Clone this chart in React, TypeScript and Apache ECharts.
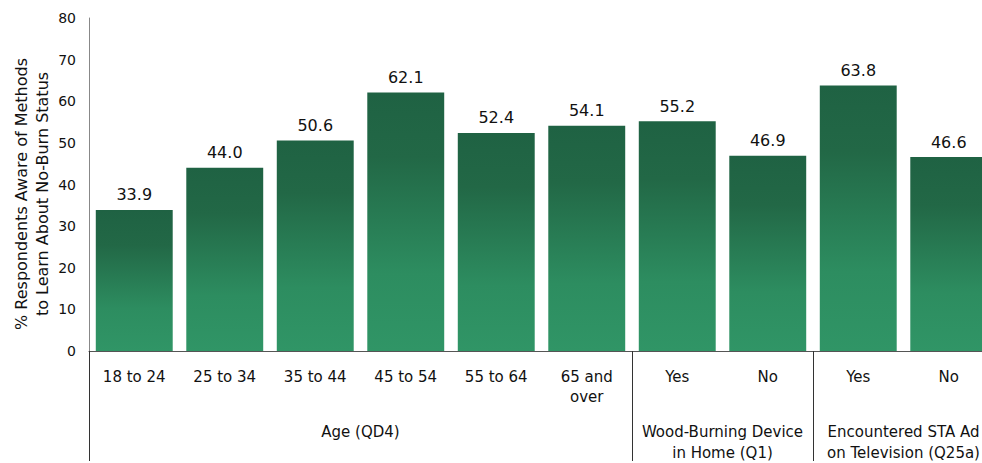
import React, { useEffect, useRef } from "react";
import * as echarts from "echarts";

const categories = ["18 to 24", "25 to 34", "35 to 44", "45 to 54", "55 to 64", "65 and\nover", "Yes", "No", "Yes", "No"];
const values = [33.9, 44.0, 50.6, 62.1, 52.4, 54.1, 55.2, 46.9, 63.8, 46.6];
// group axis: boundary positions 0..10; labels at group centres, ticks at group borders
const groupLabels = ["", "", "", "Age (QD4)", "", "", "", "Wood-Burning Device\nin Home (Q1)", "", "Encountered STA Ad\non Television (Q25a)", ""];
const groupBorders = [0, 6, 8, 10];
const yTicks = { min: 0, max: 80, interval: 10 };
const yTitle = "% Respondents Aware of Methods\nto Learn About No-Burn Status";

const FONT = "DejaVu Sans";

export default function App() {
  const ref = useRef<HTMLDivElement>(null);
  useEffect(() => {
    if (!ref.current) return;
    const chart = echarts.init(ref.current, null, { renderer: "svg" });
    chart.setOption({
      animation: false,
      textStyle: { fontFamily: FONT },
      grid: { left: 89, right: 6, top: 18, bottom: 105, containLabel: false },
      xAxis: [
        {
          type: "category",
          data: categories,
          axisTick: { show: false },
          axisLine: { lineStyle: { color: "#555", width: 1 } },
          axisLabel: { color: "#111", fontSize: 15, lineHeight: 20, margin: 16, interval: 0, fontFamily: FONT },
        },
        {
          type: "category",
          position: "bottom",
          boundaryGap: false,
          data: groupLabels,
          axisLine: { show: false },
          axisTick: {
            show: true,
            length: 110,
            interval: (i: number) => groupBorders.indexOf(i) >= 0,
            lineStyle: { color: "#333", width: 1 },
          },
          axisLabel: { color: "#111", fontSize: 15, lineHeight: 21, margin: 70, interval: 0, fontFamily: FONT },
        },
      ],
      yAxis: {
        type: "value",
        min: yTicks.min,
        max: yTicks.max,
        interval: yTicks.interval,
        splitLine: { show: false },
        axisTick: { show: false },
        axisLine: { show: true, lineStyle: { color: "#888", width: 1 } },
        axisLabel: { color: "#111", fontSize: 14, margin: 13, fontFamily: FONT },
      },
      graphic: [
        {
          type: "text",
          x: 32,
          y: 194,
          rotation: Math.PI / 2,
          style: { text: yTitle, fill: "#111", font: `16px "${FONT}"`, lineHeight: 21, textAlign: "center", textVerticalAlign: "middle" },
        },
      ],
      series: [
        {
          type: "bar",
          xAxisIndex: 0,
          data: values,
          barCategoryGap: "15%",
          itemStyle: {
            color: new echarts.graphic.LinearGradient(0, 0, 0, 1, [
              { offset: 0, color: "#1f6243" },
              { offset: 0.25, color: "#226846" },
              { offset: 0.7, color: "#2d8d60" },
              { offset: 1, color: "#309566" },
            ]),
          },
          label: { show: true, position: "top", distance: 7, color: "#111", fontSize: 16, fontFamily: FONT, formatter: (p: any) => Number(p.value).toFixed(1) },
        },
      ],
    });
    return () => chart.dispose();
  }, []);
  return (
    <div style={{ position: "fixed", left: 0, top: 0, width: 982, height: 463, overflow: "hidden", background: "#fff" }}>
      <div ref={ref} style={{ width: 1000, height: 463 }} />
    </div>
  );
}
